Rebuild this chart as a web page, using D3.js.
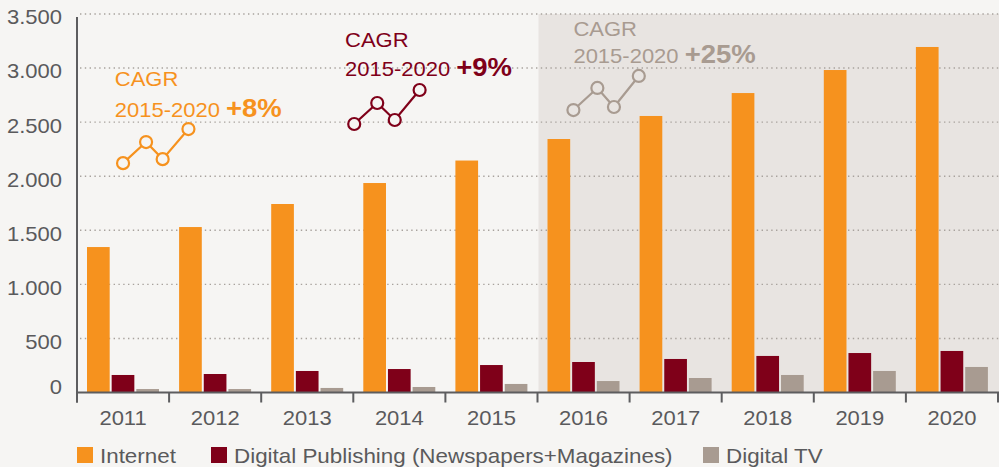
<!DOCTYPE html>
<html>
<head>
<meta charset="utf-8">
<script src="https://cdn.jsdelivr.net/npm/d3@7"></script>
<style>
  html, body { margin: 0; padding: 0; background: #f6f5f3; }
  svg { display: block; font-family: "Liberation Sans", Arial, sans-serif; }
</style>
</head>
<body>
<div id="chart"></div>
<script>
// Data
const years = ["2011", "2012", "2013", "2014", "2015", "2016", "2017", "2018", "2019", "2020"]
const series = ["Internet", "Digital Publishing (Newspapers+Magazines)", "Digital TV"]
const internet = [1345, 1530, 1743, 1937, 2145, 2344, 2557, 2769, 2982, 3195]
const publishing = [162, 171, 199, 217, 254, 282, 310, 338, 365, 384]
const digitalTV = [32, 32, 42, 51, 79, 106, 134, 162, 199, 236]
const yTicks = [0, 500, 1000, 1500, 2000, 2500, 3000, 3500]
const colors = ["#f6921e", "#7f0019", "#a89b91"]
const forecastFrom = "2016"

// CAGR call-outs (x in fractional years, y in chart units)
const cagrLabels = ["+8%", "+9%", "+25%"]
const cagrTextX = [2010.91, 2013.41, 2015.89]
const cagrTextY = [[2834, 2548], [3195, 2927], [3297, 3047]]
const cagrSparkX = [
  [2011.0, 2011.25, 2011.43, 2011.71],
  [2013.51, 2013.76, 2013.95, 2014.22],
  [2015.89, 2016.15, 2016.33, 2016.6]
]
const cagrSparkY = [
  [2121, 2316, 2158, 2436],
  [2483, 2677, 2520, 2797],
  [2612, 2816, 2640, 2927]
]

const W = 999, H = 467
const plotLeft = 77, plotRight = 998, plotBottom = 392.5, plotTop = 14
const axisColor = "#5d5d5f"
const textColor = "#5a5a5c"
const bg = "#f6f5f3"
const shade = "#e8e4e1"
const stretch = 1.1 // the source font runs wider than Liberation Sans

// squeeze x so the horizontal scale lands text where it was meant to be
function widen(sel, k) {
  sel.each(function () {
    let t = d3.select(this)
    let x0 = +t.attr("x") || 0
    t.attr("x", x0 / k).attr("transform", "scale(" + k + ",1)")
  })
}

const svg = d3.select("#chart").append("svg")
  .attr("width", W).attr("height", H)

svg.append("rect").attr("width", W).attr("height", H).attr("fill", bg)

let x = d3.scaleBand().domain(years).range([plotLeft, plotRight]).padding(0)
let x1 = d3.scaleBand().domain(series).range([10, 82]).paddingInner(0.08)
let y = d3.scaleLinear().domain([0, 3500]).range([plotBottom, plotTop])
// continuous year scale for the annotations, centred on bands
let yearX = d3.scaleLinear()
  .domain([2011, 2020])
  .range([x("2011") + x.bandwidth() / 2, x("2020") + x.bandwidth() / 2])

// Forecast shading
svg.append("rect")
  .attr("x", x(forecastFrom) + 1)
  .attr("y", y(3500))
  .attr("width", W - x(forecastFrom) - 1)
  .attr("height", y(0) - y(3500))
  .attr("fill", shade)

// Dotted grid lines
svg.append("g")
  .selectAll("line")
  .data(yTicks.filter(d => d > 0))
  .join("line")
  .attr("x1", plotLeft + 3).attr("x2", W)
  .attr("y1", d => y(d)).attr("y2", d => y(d))
  .attr("stroke", "#a8a29d")
  .attr("stroke-width", 1.4)
  .attr("stroke-dasharray", "1.4,3.4")

// Bars
const rows = years.map((yr, i) => ({year: yr, values: [internet[i], publishing[i], digitalTV[i]]}))
svg.append("g")
  .selectAll("g")
  .data(rows)
  .join("g")
  .attr("transform", d => "translate(" + x(d.year) + ",0)")
  .selectAll("rect")
  .data(d => d.values.map((v, k) => ({key: series[k], value: v, k: k})))
  .join("rect")
  .attr("x", d => x1(d.key))
  .attr("width", x1.bandwidth())
  .attr("y", d => y(d.value))
  .attr("height", d => y(0) - y(d.value))
  .attr("fill", d => colors[d.k])

// Y axis (labels sit a little below their lines, except the zero)
let yAxis = d3.axisLeft(y).tickValues(yTicks).tickSize(0).tickPadding(15)
  .tickFormat(d => d3.format(",")(d).replace(",", "."))
const gy = svg.append("g").attr("transform", "translate(" + plotLeft + ",0)").call(yAxis)
gy.select(".domain").remove()
gy.selectAll("text")
  .attr("fill", textColor)
  .style("font-size", "20px")
  .attr("font-family", "Liberation Sans, Arial, sans-serif")
  .attr("y", d => d === 0 ? -5 : 3.5)
  .call(widen, stretch)
gy.append("line")
  .attr("x1", 0).attr("x2", 0)
  .attr("y1", 17).attr("y2", plotBottom + 10)
  .attr("stroke", axisColor).attr("stroke-width", 2)

// X axis
let xAxis = d3.axisBottom(x).tickSize(0).tickPadding(18)
const gx = svg.append("g").attr("transform", "translate(0," + plotBottom + ")").call(xAxis)
gx.select(".domain").remove()
gx.selectAll("text")
  .attr("fill", textColor)
  .style("font-size", "20px")
  .attr("font-family", "Liberation Sans, Arial, sans-serif")
  .call(widen, stretch)
gx.append("line")
  .attr("x1", plotLeft).attr("x2", plotRight + 1)
  .attr("stroke", axisColor).attr("stroke-width", 2)
gx.selectAll(".edge")
  .data(years.map(d => x(d)).concat([plotRight]))
  .join("line")
  .attr("class", "edge")
  .attr("x1", d => d).attr("x2", d => d)
  .attr("y1", 0).attr("y2", 10)
  .attr("stroke", axisColor).attr("stroke-width", 2)

// CAGR annotations
const ann = svg.append("g")
cagrLabels.forEach(function (lab, i) {
  let c = colors[i]
  let tx = yearX(cagrTextX[i])
  ann.append("text")
    .attr("x", tx).attr("y", y(cagrTextY[i][0]))
    .attr("fill", c).style("font-size", "20px")
    .text("CAGR")
    .call(widen, stretch)
  let t2 = ann.append("text")
    .attr("x", tx).attr("y", y(cagrTextY[i][1]))
    .attr("fill", c).style("font-size", "20px")
  t2.append("tspan").text("2015-2020 ")
  t2.append("tspan").attr("font-weight", "bold").style("font-size", "25px").text(lab)
  t2.call(widen, stretch)

  let pts = cagrSparkX[i].map((v, k) => [yearX(v), y(cagrSparkY[i][k])])
  ann.append("path")
    .attr("d", d3.line()(pts))
    .attr("fill", "none").attr("stroke", c).attr("stroke-width", 2.2)
  ann.selectAll(".dot" + i)
    .data(pts)
    .join("circle")
    .attr("class", "dot" + i)
    .attr("cx", d => d[0]).attr("cy", d => d[1])
    .attr("r", 6)
    .attr("fill", i === 2 ? shade : bg)
    .attr("stroke", c).attr("stroke-width", 2.2)
})

// Legend
const legendX = [77, 211, 703]
const lg = svg.append("g").attr("transform", "translate(0,447)")
series.forEach(function (s, i) {
  lg.append("rect").attr("x", legendX[i]).attr("y", 0)
    .attr("width", 16).attr("height", 16).attr("fill", colors[i])
  lg.append("text").attr("x", legendX[i] + 23).attr("y", 16)
    .attr("fill", textColor).style("font-size", "20px")
    .text(s)
    .call(widen, 1.12)
})
</script>
</body>
</html>
